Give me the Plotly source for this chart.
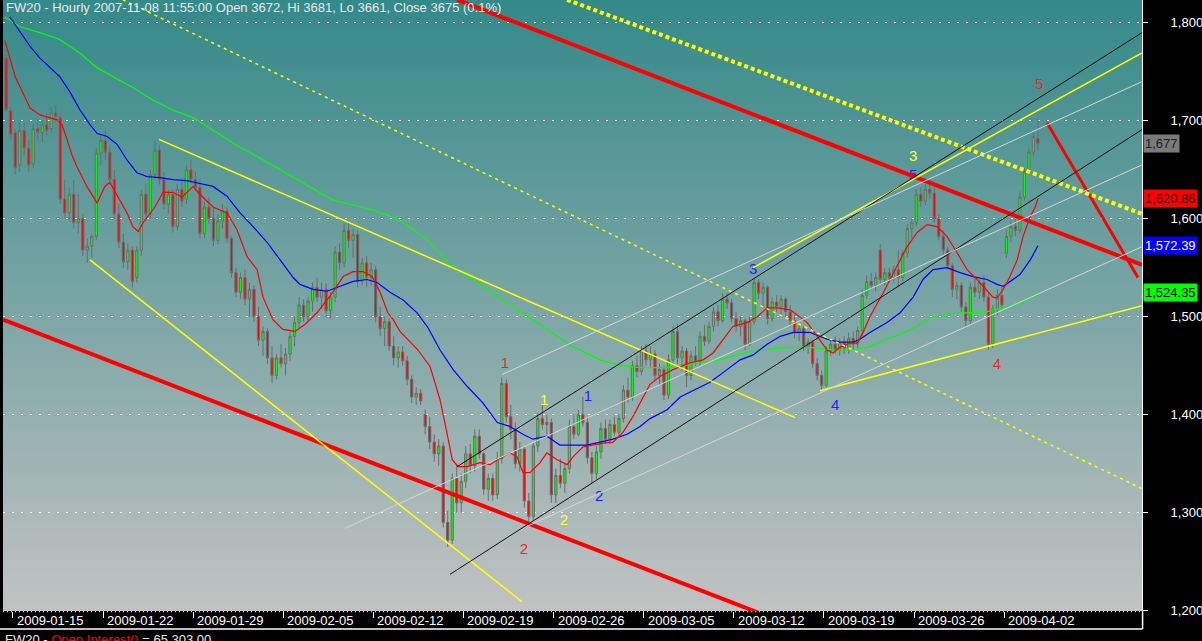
import base64
import plotly.graph_objects as go

# ------------------------------------------------------------------ data
bar_open = [
    1764, 1710, 1688, 1655, 1690, 1672, 1656, 1692, 1688, 1696,
    1692, 1708, 1703, 1620, 1606, 1625, 1596, 1600, 1568, 1572,
    1582, 1667, 1680, 1668, 1640, 1605, 1576, 1556, 1568, 1540,
    1568, 1625, 1605, 1645, 1670, 1640, 1615, 1625, 1592, 1630,
    1620, 1650, 1640, 1632, 1585, 1612, 1600, 1578, 1598, 1608,
    1580, 1545, 1525, 1540, 1518, 1528, 1500, 1476, 1485, 1458,
    1440, 1458, 1452, 1462, 1480, 1494, 1512, 1500, 1516, 1530,
    1520, 1528, 1506, 1520, 1566, 1555, 1588, 1578, 1584, 1536,
    1555, 1540, 1548, 1500, 1488, 1495, 1470, 1458, 1464, 1455,
    1436, 1418, 1422, 1400, 1388, 1372, 1360, 1368, 1290, 1272,
    1335, 1310, 1332, 1360, 1348, 1378, 1360, 1324, 1335, 1318,
    1355, 1432, 1398, 1385, 1350, 1365, 1312, 1296, 1368, 1396,
    1390, 1392, 1318, 1338, 1330, 1345, 1388, 1380, 1400, 1392,
    1356, 1340, 1362, 1386, 1375, 1390, 1382, 1396, 1425, 1418,
    1450, 1444, 1465, 1456, 1462, 1440, 1446, 1420, 1456, 1485,
    1458, 1465, 1440, 1460, 1454, 1480, 1475, 1490, 1505, 1496,
    1518, 1514, 1498, 1490, 1496, 1472, 1495, 1535, 1524, 1530,
    1498, 1515, 1510, 1518, 1505, 1496, 1484, 1488, 1470, 1474,
    1452, 1440, 1430, 1465, 1472, 1466, 1474, 1468, 1478, 1472,
    1486, 1522, 1536, 1532, 1568, 1538, 1545, 1540, 1548, 1540,
    1565, 1590, 1596, 1625, 1618, 1630, 1626, 1600, 1582, 1568,
    1552, 1528, 1532, 1510, 1496, 1530, 1525, 1535, 1520, 1472,
    1508, 1522, 1565, 1582, 1592, 1588, 1622, 1648, 1668, 1682,
]
bar_high = [
    1767, 1714, 1692, 1700, 1698, 1680, 1698, 1702, 1700, 1708,
    1714, 1716, 1708, 1640, 1632, 1640, 1625, 1605, 1580, 1585,
    1672, 1685, 1690, 1675, 1650, 1615, 1585, 1575, 1572, 1572,
    1630, 1635, 1650, 1680, 1675, 1648, 1630, 1630, 1635, 1642,
    1655, 1660, 1648, 1640, 1618, 1622, 1612, 1605, 1615, 1612,
    1582, 1550, 1545, 1548, 1535, 1532, 1510, 1490, 1488, 1470,
    1462, 1472, 1468, 1485, 1500, 1520, 1518, 1520, 1535, 1540,
    1535, 1534, 1525, 1572, 1575, 1596, 1598, 1590, 1588, 1560,
    1562, 1555, 1552, 1510, 1500, 1498, 1480, 1470, 1470, 1460,
    1440, 1428, 1426, 1405, 1398, 1380, 1375, 1372, 1302, 1340,
    1350, 1340, 1368, 1370, 1385, 1385, 1362, 1340, 1340, 1362,
    1438, 1436, 1410, 1392, 1372, 1368, 1320, 1372, 1402, 1410,
    1400, 1396, 1345, 1355, 1350, 1395, 1400, 1405, 1418, 1398,
    1362, 1368, 1392, 1395, 1395, 1398, 1400, 1430, 1438, 1455,
    1460, 1470, 1472, 1470, 1466, 1452, 1450, 1462, 1490, 1492,
    1470, 1468, 1465, 1470, 1485, 1492, 1495, 1510, 1512, 1524,
    1524, 1518, 1505, 1500, 1498, 1500, 1540, 1538, 1535, 1532,
    1520, 1522, 1522, 1520, 1512, 1502, 1492, 1490, 1478, 1476,
    1458, 1445, 1470, 1478, 1480, 1478, 1480, 1484, 1485, 1490,
    1528, 1542, 1545, 1545, 1574, 1550, 1550, 1552, 1568, 1568,
    1595, 1600, 1630, 1632, 1636, 1640, 1632, 1605, 1588, 1572,
    1555, 1536, 1535, 1515, 1535, 1540, 1538, 1542, 1525, 1512,
    1528, 1530, 1588, 1598, 1600, 1628, 1652, 1672, 1688, 1704,
]
bar_low = [
    1709, 1680, 1645, 1648, 1665, 1648, 1652, 1680, 1678, 1685,
    1688, 1698, 1615, 1600, 1598, 1590, 1585, 1562, 1555, 1560,
    1578, 1655, 1660, 1635, 1600, 1570, 1550, 1548, 1530, 1535,
    1562, 1598, 1600, 1640, 1635, 1610, 1605, 1586, 1588, 1612,
    1615, 1636, 1628, 1580, 1580, 1595, 1572, 1574, 1590, 1575,
    1540, 1520, 1518, 1512, 1500, 1495, 1470, 1460, 1452, 1432,
    1436, 1448, 1440, 1455, 1470, 1488, 1495, 1496, 1505, 1515,
    1508, 1500, 1498, 1515, 1548, 1550, 1570, 1560, 1530, 1532,
    1530, 1532, 1494, 1480, 1470, 1465, 1450, 1448, 1450, 1430,
    1412, 1410, 1410, 1380, 1365, 1352, 1348, 1285, 1265, 1268,
    1300, 1300, 1325, 1340, 1342, 1355, 1318, 1312, 1312, 1314,
    1350, 1392, 1375, 1345, 1342, 1305, 1289, 1292, 1362, 1385,
    1380, 1310, 1310, 1325, 1320, 1340, 1375, 1378, 1388, 1350,
    1330, 1334, 1355, 1370, 1370, 1378, 1378, 1392, 1412, 1414,
    1438, 1440, 1450, 1448, 1435, 1430, 1415, 1416, 1450, 1452,
    1445, 1428, 1435, 1450, 1450, 1470, 1472, 1485, 1490, 1494,
    1508, 1494, 1485, 1480, 1466, 1470, 1492, 1518, 1510, 1492,
    1495, 1505, 1500, 1500, 1490, 1478, 1475, 1465, 1462, 1448,
    1435, 1425, 1428, 1460, 1462, 1460, 1462, 1462, 1466, 1468,
    1480, 1518, 1528, 1526, 1534, 1532, 1535, 1535, 1530, 1536,
    1560, 1580, 1592, 1612, 1614, 1620, 1596, 1578, 1562, 1548,
    1520, 1518, 1505, 1490, 1492, 1520, 1518, 1515, 1466, 1468,
    1502, 1508, 1560, 1576, 1582, 1585, 1618, 1645, 1664, 1670,
]
bar_close = [
    1711, 1686, 1652, 1690, 1672, 1655, 1692, 1688, 1696, 1690,
    1708, 1704, 1620, 1606, 1625, 1596, 1600, 1568, 1572, 1582,
    1667, 1680, 1668, 1640, 1605, 1576, 1556, 1568, 1536, 1568,
    1625, 1605, 1645, 1670, 1640, 1615, 1625, 1592, 1630, 1618,
    1650, 1640, 1632, 1585, 1612, 1600, 1578, 1598, 1608, 1580,
    1545, 1525, 1540, 1518, 1528, 1500, 1476, 1485, 1458, 1440,
    1458, 1452, 1462, 1480, 1494, 1512, 1500, 1516, 1530, 1520,
    1528, 1506, 1520, 1566, 1555, 1588, 1578, 1584, 1536, 1555,
    1540, 1548, 1500, 1488, 1495, 1470, 1458, 1464, 1455, 1436,
    1418, 1422, 1414, 1388, 1372, 1360, 1368, 1290, 1272, 1335,
    1310, 1332, 1360, 1348, 1378, 1360, 1324, 1335, 1318, 1355,
    1432, 1398, 1385, 1350, 1365, 1312, 1296, 1368, 1396, 1390,
    1392, 1318, 1338, 1330, 1345, 1388, 1380, 1400, 1392, 1356,
    1340, 1362, 1386, 1375, 1390, 1382, 1396, 1425, 1418, 1450,
    1444, 1465, 1456, 1462, 1440, 1446, 1420, 1456, 1485, 1458,
    1465, 1440, 1460, 1454, 1480, 1475, 1490, 1505, 1496, 1518,
    1514, 1498, 1490, 1496, 1472, 1495, 1535, 1524, 1530, 1498,
    1515, 1510, 1518, 1505, 1496, 1484, 1488, 1470, 1474, 1452,
    1440, 1430, 1465, 1472, 1466, 1474, 1468, 1478, 1472, 1486,
    1522, 1536, 1532, 1540, 1538, 1545, 1540, 1548, 1540, 1565,
    1590, 1596, 1625, 1618, 1630, 1626, 1600, 1582, 1568, 1552,
    1528, 1532, 1510, 1496, 1530, 1525, 1535, 1520, 1472, 1508,
    1522, 1512, 1582, 1592, 1588, 1622, 1648, 1668, 1684, 1677,
]

# moving averages (bar position, value)
ma_red_x = [-0.3, 2.0, 5.3, 7.5, 11.3, 12.4, 13.5, 14.6, 15.7, 17.9, 20.2, 21.9, 23.0, 24.2, 26.8, 28.1,
            29.3, 30.4, 33.0, 34.8, 37.0, 39.0, 41.5, 43.0, 45.9, 49.0, 51.2, 53.5, 55.7, 57.0, 57.9,
            59.2, 61.4, 64.1, 66.3, 69.0, 72.5, 74.8, 77.0, 79.2, 81.2, 83.0, 84.7, 85.9, 87.4, 91.4,
            94.1, 96.3, 97.8, 99.0, 100.3, 102.3, 105.2, 107.4, 109.0, 110.3, 111.8, 113.4, 114.7,
            116.3, 118.5, 120.0, 122.3, 124.5, 125.8, 128.0, 130.3, 132.5, 134.7, 136.9, 139.1, 141.4,
            142.9, 145.1, 148.0, 151.8, 154.7, 156.9, 159.1, 161.3, 164.4, 166.7, 168.9, 171.1, 174.0,
            176.2, 177.8, 180.0, 182.2, 183.5, 185.1, 187.3, 188.9, 190.2, 191.7, 194.6, 197.7, 199.9,
            202.2, 204.4, 206.6, 208.8, 211.1, 213.3, 215.5, 216.8, 219.0, 219.9, 221.3, 222.8, 224.4,
            225.7, 227.3, 228.4, 229.0]
ma_red_y = [1782, 1745, 1713, 1706, 1701, 1696, 1681, 1665, 1653, 1633, 1616, 1633, 1637, 1627, 1606, 1592,
            1587, 1596, 1612, 1627, 1627, 1622, 1633, 1625, 1612, 1606, 1589, 1561, 1548, 1520, 1510,
            1497, 1487, 1485, 1492, 1504, 1525, 1541, 1546, 1546, 1541, 1525, 1504, 1497, 1485, 1466,
            1449, 1415, 1382, 1354, 1347, 1347, 1351, 1349, 1354, 1357, 1361, 1357, 1341,
            1341, 1351, 1361, 1354, 1349, 1357, 1367, 1369, 1371, 1372, 1382, 1398, 1418,
            1431, 1439, 1446, 1453, 1456, 1463, 1477, 1490, 1494, 1500, 1509, 1509, 1507,
            1500, 1494, 1480, 1466, 1463, 1469, 1473, 1473, 1484, 1500, 1524, 1551, 1571,
            1586, 1594, 1592, 1582, 1565, 1548, 1538, 1531, 1520, 1519, 1528, 1541, 1558,
            1582, 1602, 1612, 1620.86]
ma_blue_x = [0.8, 3.1, 5.3, 7.5, 9.7, 11.9, 14.2, 16.4, 18.6, 20.2, 22.4, 24.6, 26.8, 29.0, 31.3, 34.1,
             37.0, 40.1, 43.0, 45.9, 49.0, 51.9, 54.8, 57.9, 60.8, 63.7, 65.2, 68.1, 71.2, 74.1, 77.0,
             80.1, 82.3, 85.2, 88.1, 91.2, 93.6, 96.3, 99.2, 102.3, 105.8, 109.0, 111.8, 114.7, 116.9,
             120.0, 122.9, 125.8, 128.9, 131.8, 134.7, 137.8, 140.7, 142.9, 146.7, 149.6, 151.8, 156.2,
             160.0, 162.9, 165.8, 168.9, 171.8, 174.7, 178.4, 182.2, 185.1, 188.0, 189.5, 191.7, 195.5,
             198.4, 201.3, 203.5, 205.7, 208.8, 211.7, 214.6, 217.7, 219.9, 221.3, 222.8, 225.0, 227.3,
             229.0]
ma_blue_y = [1806, 1790, 1776, 1764, 1755, 1745, 1729, 1711, 1696, 1687, 1684, 1676, 1660, 1647, 1643, 1642,
             1640, 1639, 1636, 1633, 1623, 1606, 1592, 1576, 1558, 1540, 1533, 1528, 1526, 1531, 1536,
             1538, 1535, 1525, 1517, 1504, 1489, 1466, 1446, 1429, 1412, 1392, 1388, 1380, 1375,
             1378, 1369, 1369, 1369, 1372, 1375, 1380, 1388, 1396, 1405, 1418, 1423, 1433,
             1446, 1456, 1461, 1472, 1480, 1484, 1484, 1477, 1474, 1474, 1477, 1484, 1494,
             1504, 1520, 1538, 1548, 1550, 1545, 1541, 1538, 1533, 1531, 1536, 1543, 1558,
             1572.39]
ma_green_x = [-0.3, 3.1, 7.5, 11.9, 16.4, 20.2, 23.7, 28.1, 32.6, 37.0, 41.5, 47.5, 51.9, 56.3, 60.8, 65.2,
              72.5, 77.0, 81.4, 87.4, 93.4, 96.3, 98.5, 105.2, 111.8, 118.5, 125.2, 131.8, 136.3, 140.7,
              145.1, 149.6, 154.0, 158.4, 162.9, 167.3, 171.8, 176.2, 180.6, 183.5, 187.3, 191.7, 194.6,
              198.4, 202.2, 205.1, 208.0, 211.7, 214.6, 217.7, 219.9, 222.8, 225.7, 228.8]
ma_green_y = [1806, 1796, 1790, 1783, 1769, 1754, 1745, 1734, 1721, 1711, 1703, 1686, 1673, 1662, 1650, 1638,
              1619, 1614, 1609, 1599, 1579, 1565, 1553, 1533, 1512, 1492, 1471, 1456, 1450, 1448,
              1448, 1449, 1453, 1456, 1462, 1466, 1468, 1469, 1468, 1466, 1466, 1469, 1476,
              1482, 1490, 1499, 1502, 1504, 1504, 1505, 1508, 1510, 1515, 1524.35]

# hand-drawn trend lines (start/end in bar position and price)
trend_names = ["red_low", "red_high", "red_steep", "yellow_dotted", "yellow_dashed",
               "yellow_a", "yellow_b", "yellow_c", "yellow_d", "black_up", "black_low",
               "grey_a", "grey_b", "grey_c"]
trend_x0 = [-0.7, 100.1, 231.0, 124.5, 25.9, 18.6, 33.9, 180.6, 165.8, 100.1, 98.5, 110.1, 75.2, 115.6]
trend_y0 = [1497, 1823.5, 1698, 1823.5, 1823.5, 1558, 1681, 1424.5, 1550, 1347, 1237, 1441, 1284, 1286]
trend_x1 = [168, 252.1, 251.2, 252.1, 252.1, 114.5, 175.1, 252.1, 252.1, 252.1, 252.1, 252.1, 252.1, 252.1]
trend_y1 = [1196, 1553, 1540, 1605, 1324.5, 1209, 1397, 1511.3, 1769.4, 1790, 1691, 1740, 1655, 1571.5]

# Elliott wave labels
wave_text = ["5", "3", "5", "3", "4", "4", "1", "1", "1", "2", "2", "2"]
wave_x = [229.3, 201.3, 201.3, 165.8, 184.0, 219.9, 110.7, 119.4, 129.1, 114.9, 123.8, 131.6]
wave_y = [1736, 1663, 1643, 1547, 1409, 1450, 1451, 1414, 1418, 1262, 1291, 1316]
wave_group = ["red", "yellow", "blue", "blue", "blue", "red", "red", "yellow", "blue", "red", "yellow", "blue"]

date_labels = ["2009-01-15", "2009-01-22", "2009-01-29", "2009-02-05", "2009-02-12", "2009-02-19",
               "2009-02-26", "2009-03-05", "2009-03-12", "2009-03-19", "2009-03-26", "2009-04-02"]
price_ticks = [1200, 1300, 1400, 1500, 1600, 1700, 1800]

last_close = 1677
ma_last = [1620.86, 1572.39, 1524.35]
title_text = "FW20 - Hourly 2007-11-08 11:55:00 Open 3672, Hi 3681, Lo 3661, Close 3675 (0.1%)"
oi_value = "65,303.00"

# ------------------------------------------------------------------ styling
FONT = "Liberation Sans, Arial, sans-serif"
BARS_PER_DAY = 4
x_bar = list(range(len(bar_close)))
tick_pos = [1.5 + i * 5 * BARS_PER_DAY for i in range(len(date_labels))]
X_RANGE = [-0.71, 252.1]
Y_RANGE = [1199.6, 1823.3]

line_style = {
    "red_low": dict(color="#ff0000", width=4),
    "red_high": dict(color="#ff0000", width=4),
    "red_steep": dict(color="#ff0000", width=3),
    "yellow_dotted": dict(color="#ffff00", width=4, dash="4px,3px"),
    "yellow_dashed": dict(color="#ffff00", width=1.5, dash="3px,4px"),
    "yellow_a": dict(color="#ffff00", width=1.5),
    "yellow_b": dict(color="#ffff00", width=1.5),
    "yellow_c": dict(color="#ffff00", width=1.5),
    "yellow_d": dict(color="#ffff00", width=1.5),
    "black_up": dict(color="#111111", width=1),
    "black_low": dict(color="#111111", width=1),
    "grey_a": dict(color="#d4d4d4", width=1),
    "grey_b": dict(color="#d4d4d4", width=1),
    "grey_c": dict(color="#d4d4d4", width=1),
}
wave_color = {"red": "#e82a2a", "yellow": "#ffff40", "blue": "#2222ff"}

fig = go.Figure()

fig.add_trace(go.Candlestick(
    x=x_bar, open=bar_open, high=bar_high, low=bar_low, close=bar_close,
    increasing=dict(line=dict(color="#6c6c6c", width=1), fillcolor="#00ff00"),
    decreasing=dict(line=dict(color="#6c6c6c", width=1), fillcolor="#ff0000"),
    whiskerwidth=0, hoverinfo="skip", showlegend=False,
))

for xs, ys, col in [(ma_green_x, ma_green_y, "#00ff00"),
                    (ma_blue_x, ma_blue_y, "#0000ff"),
                    (ma_red_x, ma_red_y, "#ff0000")]:
    fig.add_trace(go.Scatter(x=xs, y=ys, mode="lines", line=dict(color=col, width=1.2),
                             hoverinfo="skip", showlegend=False))

fig.add_trace(go.Scatter(
    x=wave_x, y=wave_y, mode="text", text=wave_text,
    textfont=dict(family=FONT, size=15, color=[wave_color[g] for g in wave_group]),
    hoverinfo="skip", showlegend=False))

for name, x0, y0, x1, y1 in zip(trend_names, trend_x0, trend_y0, trend_x1, trend_y1):
    fig.add_trace(go.Scatter(x=[x0, x1], y=[y0, y1], mode="lines", line=line_style[name],
                             hoverinfo="skip", showlegend=False))

# gradient background of the plot area
svg = ('<svg xmlns="http://www.w3.org/2000/svg" width="100" height="100" preserveAspectRatio="none">'
       '<defs><linearGradient id="g" x1="0" y1="0" x2="0" y2="1">'
       '<stop offset="0" stop-color="rgb(52,137,137)"/>'
       '<stop offset="1" stop-color="rgb(194,194,194)"/>'
       '</linearGradient></defs><rect width="100" height="100" fill="url(#g)"/></svg>')
bg_src = "data:image/svg+xml;base64," + base64.b64encode(svg.encode()).decode()

annotations = []
annotations.append(dict(xref="paper", yref="paper", x=0.001, y=1, xanchor="left", yanchor="top",
                        yshift=2, text=title_text, showarrow=False,
                        font=dict(family=FONT, size=13, color="#e8e8e8")))
for pos, lab in zip(tick_pos, date_labels):
    annotations.append(dict(xref="x", yref="paper", x=pos, y=0, xanchor="left", yanchor="top",
                            xshift=2, yshift=0, text=lab, showarrow=False,
                            font=dict(family=FONT, size=13, color="white")))
box_specs = [(f"{last_close:,}", last_close, "#7a7a7a", "#222222"),
             (f"{ma_last[0]:,.2f}", ma_last[0], "#ff0000", "#300000"),
             (f"{ma_last[1]:,.2f}", ma_last[1], "#0000ff", "#ffffff"),
             (f"{ma_last[2]:,.2f}", ma_last[2], "#00ff00", "#000000")]
for txt, val, bg, fg in box_specs:
    annotations.append(dict(xref="paper", yref="y", x=1.0, y=val, xanchor="left", yanchor="middle",
                            xshift=1, text=txt, showarrow=False, bgcolor=bg, borderpad=1,
                            font=dict(family=FONT, size=13, color=fg)))
annotations.append(dict(xref="paper", yref="paper", x=0.0, y=-0.031, xanchor="left", yanchor="top",
                        text=f"FW20 - <span style='color:#ff0000'>Open Interest()</span> = {oi_value}",
                        showarrow=False, font=dict(family=FONT, size=13, color="#e8e8e8")))

shapes = [
    dict(type="line", xref="paper", yref="paper", x0=-0.003, x1=1.0005, y0=-0.0295, y1=-0.0295,
         line=dict(color="white", width=1.5)),
    dict(type="line", xref="paper", yref="paper", x0=1.0005, x1=1.0005, y0=0, y1=-0.0295,
         line=dict(color="white", width=1.5)),
    dict(type="line", xref="paper", yref="paper", x0=0, x1=1, y0=-0.0012, y1=-0.0012,
         line=dict(color="white", width=1, dash="1px,3px")),
]

fig.update_layout(
    width=1202, height=641,
    margin=dict(l=3, r=60, t=0, b=30),
    paper_bgcolor="black", plot_bgcolor="rgb(123,165,165)",
    showlegend=False, hovermode=False,
    font=dict(family=FONT, color="white", size=13),
    images=[dict(source=bg_src, xref="paper", yref="paper", x=0, y=1, sizex=1, sizey=1,
                 xanchor="left", yanchor="top", sizing="stretch", layer="below")],
    annotations=annotations, shapes=shapes,
    xaxis=dict(range=X_RANGE, tickvals=tick_pos, ticks="outside", ticklen=6, tickcolor="white",
               showticklabels=False, showgrid=False, zeroline=False, showline=False,
               rangeslider=dict(visible=False), fixedrange=True),
    yaxis=dict(side="right", range=Y_RANGE, tickvals=price_ticks, tickformat=",d",
               ticks="outside", ticklen=5, tickcolor="white", showline=True, linecolor="white",
               linewidth=1, showgrid=True, gridcolor="white", gridwidth=1, griddash="2px,7px",
               zeroline=False, tickfont=dict(family=FONT, size=13, color="white"),
               ticklabelstandoff=20, fixedrange=True),
)

fig.write_html(
    "out.html",
    config={"displayModeBar": False},
    post_script="document.body.style.margin='0';document.body.style.padding='0';"
                "document.body.style.overflow='hidden';document.body.style.background='black';",
)
